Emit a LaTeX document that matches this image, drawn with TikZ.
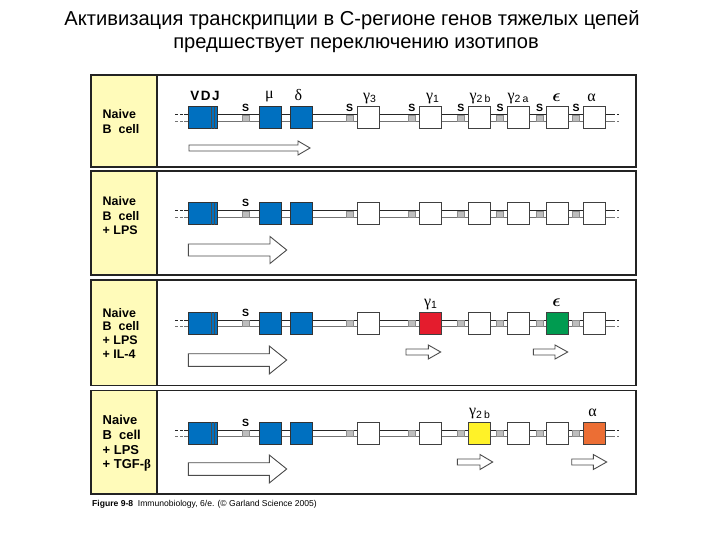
\documentclass[tikz,border=0pt]{standalone}
\usepackage{fontspec}
\usetikzlibrary{positioning}
\setmainfont{Liberation Sans}
\newfontfamily\grk{Liberation Serif}
\definecolor{pane}{RGB}{255,251,186}
\definecolor{gblue}{RGB}{0,112,192}
\definecolor{gred}{RGB}{228,28,45}
\definecolor{ggreen}{RGB}{0,155,80}
\definecolor{gyellow}{RGB}{255,242,40}
\definecolor{gorange}{RGB}{236,110,52}
\definecolor{frm}{RGB}{35,35,35}
\definecolor{swgray}{RGB}{190,190,190}
\tikzset{
  panel/.style={draw=frm, line width=1.6bp},
  strandtop/.style={draw=black!85, line width=1bp},
  strandbot/.style={draw=black!55, line width=0.9bp},
  sw/.style={draw=black!45, fill=swgray, line width=0.6bp, minimum width=7bp, minimum height=6bp, inner sep=0pt},
  gbox/.style={draw=black!75, fill=white, line width=1bp, minimum width=22bp, minimum height=22bp, inner sep=0pt},
  harr/.style={draw=black!70, fill=white, line width=0.9bp, line join=miter},
  lab/.style={anchor=base west, font=\fontsize{12.5}{14.5}\selectfont\bfseries, inner sep=0pt},
  slab/.style={font=\fontsize{10.5}{10.5}\selectfont\bfseries, inner sep=0pt},
  glab/.style={font=\fontsize{16}{16}\selectfont, inner sep=0pt, anchor=base},
}
\newcommand\gsub[2]{{\grk γ}\raisebox{-2.5bp}{\fontsize{10.5}{10.5}\selectfont #2}}
\newcommand\epsl{{\boldmath$\epsilon$}}
\newcommand\locus[6]{%
  \fill[white] (184,#2-3) rectangle (612,#2+3);
  \draw[strandtop] (184,#2-3) -- (612,#2-3);
  \draw[strandbot] (184,#2+3) -- (612,#2+3);
  \draw[strandtop,dash pattern=on 2.5bp off 2.5bp] (175,#2-3) -- (184,#2-3);
  \draw[strandbot,dash pattern=on 2.5bp off 2.5bp] (175,#2+3) -- (184,#2+3);
  \draw[strandtop,dash pattern=on 2.5bp off 2.5bp] (612,#2-3) -- (619,#2-3);
  \draw[strandbot,dash pattern=on 2.5bp off 2.5bp] (612,#2+3) -- (619,#2+3);
  \node[sw] (#1smu) at (245.5,#2) {};
  \node[sw] (#1sg3) at (349.5,#2) {};
  \node[sw] (#1sg1) at (411.8,#2) {};
  \node[sw] (#1sgb) at (460.8,#2) {};
  \node[sw] (#1sga) at (500.2,#2) {};
  \node[sw] (#1sep) at (539.5,#2) {};
  \node[sw] (#1sal) at (576.2,#2) {};
  \node[gbox, fill=gblue, draw=black!80, minimum width=28.6bp] (#1vdj) at (203,#2) {};
  \draw[black!70, line width=0.8bp] (211.7,#2-11) -- (211.7,#2+11);
  \draw[black!70, line width=0.8bp] (214.2,#2-11) -- (214.2,#2+11);
  \node[gbox, fill=gblue, draw=black!80] (#1mu) at (270.5,#2) {};
  \node[gbox, fill=gblue, draw=black!80] (#1de) at (301.3,#2) {};
  \node[gbox] (#1g3) at (368,#2) {};
  \node[gbox, fill=#3] (#1g1) at (430,#2) {};
  \node[gbox, fill=#4] (#1gb) at (479.3,#2) {};
  \node[gbox] (#1ga) at (518.3,#2) {};
  \node[gbox, fill=#5] (#1ep) at (557.2,#2) {};
  \node[gbox, fill=#6] (#1al) at (594.2,#2) {};
}
% x1, xbase, xtip, yc, shaft half, head half
\newcommand\harrow[6]{%
  \draw[harr] (#1,#4-#5) -- (#2,#4-#5) -- (#2,#4-#6) -- (#3,#4) -- (#2,#4+#6) -- (#2,#4+#5) -- (#1,#4+#5) -- cycle;
}
\begin{document}
\begin{tikzpicture}[x=1bp, y=-1bp]
\useasboundingbox (0,0) rectangle (720,540);
\fill[white] (0,0) rectangle (720,540);

% title
\node[font=\fontsize{20.2}{24}\selectfont, inner sep=0pt] (title1) at (352,20) {Активизация транскрипции в С-регионе генов тяжелых цепей};
\node[font=\fontsize{20.2}{24}\selectfont, inner sep=0pt] (title2) at (356,45) {предшествует переключению изотипов};

% panels
\foreach \t/\b in {75/167, 171/275, 280/385.5, 390.5/494}{
  \fill[white] (91,\t) rectangle (636,\b);
  \fill[pane] (91,\t) rectangle (157,\b);
  \draw[panel] (157,\t) -- (157,\b);
  \draw[panel] (91,\t) rectangle (636,\b);
}

% panel 1
\node[lab] (t1a) at (102.5,118.5) {Naive};
\node[lab] (t1b) at (102.5,133.5) {B\ \ cell};
\locus{a}{118}{white}{white}{white}{white}
\node[font=\fontsize{13.5}{13.5}\selectfont\bfseries, inner sep=0pt] (lvdj) at (205,95.5) {V\hspace{1.5pt}D\hspace{1.5pt}J};
\node[glab] (lmu) at (269.5,99) {\grk μ};
\node[glab] (lde) at (298.5,101) {\grk δ};
\node[glab] (lg3) at (369.5,100.5) {\gsub{γ}{3}};
\node[glab] (lg1) at (432.5,100.5) {\gsub{γ}{1}};
\node[glab] (lgb) at (480,100.5) {\gsub{γ}{2\hspace{2bp}b}};
\node[glab] (lga) at (518,100.5) {\gsub{γ}{2\hspace{2bp}a}};
\node[glab] (lep) at (556.5,101.5) {\epsl};
\node[glab] (lal) at (591.5,101.7) {\grk α};
\foreach \n in {smu,sg3,sg1,sgb,sga,sep,sal}{
  \node[slab, above=2.5bp of a\n] {S};
}
\harrow{189}{298}{310}{148}{3}{7}

% panel 2
\node[lab] (t2a) at (102.5,206) {Naive};
\node[lab] (t2b) at (102.5,220.5) {B\ \ cell};
\node[lab] (t2c) at (102.5,235) {+\ LPS};
\locus{b}{214}{white}{white}{white}{white}
\node[slab, above=3.5bp of bsmu] (bS) {S};
\harrow{188.3}{270}{286.7}{250}{6}{13.5}

% panel 3
\node[lab] (t3a) at (102.5,317) {Naive};
\node[lab] (t3b) at (102.5,330.5) {B\ \ cell};
\node[lab] (t3c) at (102.5,344.5) {+\ LPS};
\node[lab] (t3d) at (102.5,358) {+\ IL-4};
\locus{c}{323}{gred}{white}{ggreen}{white}
\node[slab, above=2.5bp of csmu] (cS) {S};
\node[glab] (cl1) at (430.5,306) {\gsub{γ}{1}};
\node[glab] (clep) at (556.5,306) {\epsl};
\harrow{188.3}{269.3}{286.7}{360}{6.3}{14}
\harrow{406}{428.3}{440.7}{352}{3}{7}
\harrow{533.3}{555}{567.7}{352}{3}{7}

% panel 4
\node[lab, font=\fontsize{13}{15}\selectfont\bfseries] (t4a) at (102.5,424.5) {Naive};
\node[lab, font=\fontsize{13}{15}\selectfont\bfseries] (t4b) at (102.5,439) {B\ \ cell};
\node[lab, font=\fontsize{13}{15}\selectfont\bfseries] (t4c) at (102.5,454.5) {+\ LPS};
\node[lab, font=\fontsize{13}{15}\selectfont\bfseries] (t4d) at (102.5,468.5) {+\ TGF-{\grk β}};
\locus{d}{433}{white}{gyellow}{white}{gorange}
\node[slab, above=2.5bp of dsmu] (dS) {S};
\node[glab] (dlgb) at (479.5,415.5) {\gsub{γ}{2\hspace{2bp}b}};
\node[glab] (dlal) at (592.5,416.7) {\grk α};
\harrow{188.3}{269.3}{286.7}{469}{6.3}{14}
\harrow{457.3}{480}{492.7}{462}{3}{7.5}
\harrow{571.7}{593.3}{606.7}{462}{3}{7.5}

% caption
\node[anchor=west, inner sep=0pt, font=\fontsize{8.6}{10}\selectfont] (cap) at (92,504) {\textbf{Figure 9-8}\ \ Immunobiology, 6/e. (© Garland Science 2005)};
\end{tikzpicture}
\end{document}
